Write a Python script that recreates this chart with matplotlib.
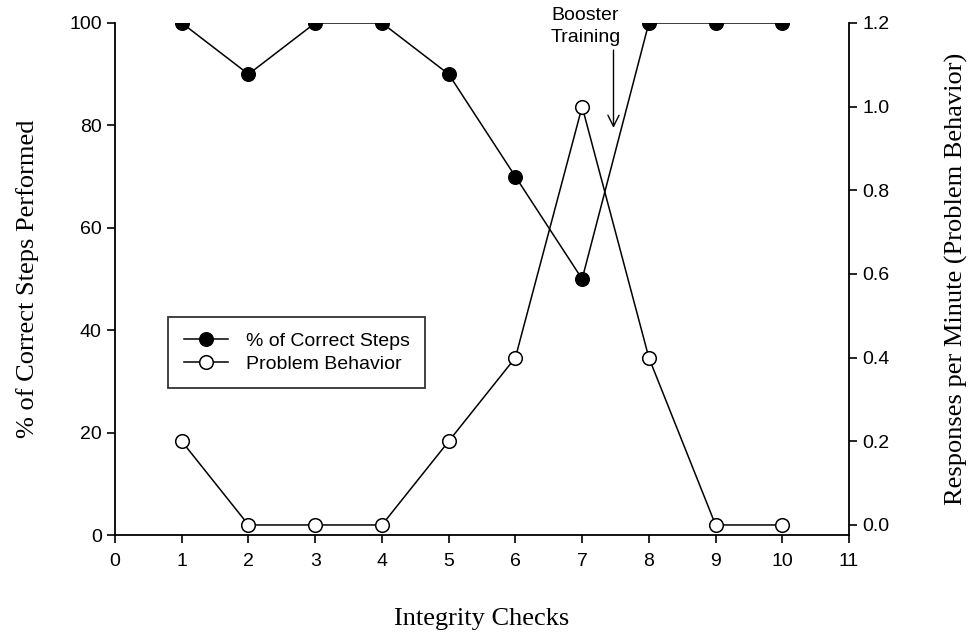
import matplotlib
matplotlib.use("Agg")
import matplotlib.pyplot as plt

checks = [1, 2, 3, 4, 5, 6, 7, 8, 9, 10]
pct_correct = [100, 90, 100, 100, 90, 70, 50, 100, 100, 100]
problem_rate = [0.2, 0.0, 0.0, 0.0, 0.2, 0.4, 1.0, 0.4, 0.0, 0.0]
x_ticks = list(range(0, 12))
left_ticks = [0, 20, 40, 60, 80, 100]
right_ticks = [0.0, 0.2, 0.4, 0.6, 0.8, 1.0, 1.2]

sans = "Liberation Sans"
serif = "Liberation Serif"

fig = plt.figure(figsize=(9.7, 6.33), dpi=100)
ax = fig.add_axes([0.1186, 0.1548, 0.7567, 0.8089])
ax2 = ax.twinx()

l1, = ax.plot(checks, pct_correct, color="black", lw=1.1, marker="o",
              markersize=9.8, markerfacecolor="black", markeredgecolor="black",
              label="% of Correct Steps", zorder=3)
l2, = ax2.plot(checks, problem_rate, color="black", lw=1.1, marker="o",
               markersize=9.8, markerfacecolor="white", markeredgecolor="black",
               markeredgewidth=1.1, label="Problem Behavior", zorder=3)

ax.set_xlim(0, 11)
ax.set_ylim(0, 100)
ax2.set_ylim(-0.024, 1.2)
ax.set_xticks(x_ticks)
ax.set_yticks(left_ticks)
ax2.set_yticks(right_ticks)
ax2.set_yticklabels([f"{v:.1f}" for v in right_ticks])

for a in (ax, ax2):
    a.spines["top"].set_visible(False)
    for s in a.spines.values():
        s.set_linewidth(1.3)
    a.tick_params(direction="out", length=6, width=1.2, labelsize=14)
    for lab in a.get_xticklabels() + a.get_yticklabels():
        lab.set_fontfamily(sans)
ax2.spines["left"].set_visible(False)
ax2.spines["bottom"].set_visible(False)
ax.spines["right"].set_visible(False)
ax.tick_params(axis="x", pad=7)

ax.set_xlabel("Integrity Checks", fontfamily=serif, fontsize=19, labelpad=27)
ax.set_ylabel("% of Correct Steps Performed", fontfamily=serif, fontsize=19, labelpad=22)
ax2.set_ylabel("Responses per Minute (Problem Behavior)", fontfamily=serif,
               fontsize=19, labelpad=40, rotation=90)

ax.text(7.05, 99.3, "Booster\nTraining", ha="center", va="center",
        fontsize=14, fontfamily=sans, linespacing=1.4, clip_on=False)
ax.annotate("", xy=(7.47, 79.5), xytext=(7.47, 94.7),
            arrowprops=dict(arrowstyle="->", color="black", lw=1.0,
                            mutation_scale=20, shrinkA=0, shrinkB=0),
            annotation_clip=False)

leg = fig.legend(handles=[l1, l2], loc="upper left",
                 bbox_to_anchor=(168 / 970, 1 - 317 / 633),
                 prop={"family": sans, "size": 14}, frameon=True,
                 fancybox=False, borderpad=0.8, handlelength=2.3,
                 labelspacing=0.25, borderaxespad=0, handletextpad=0.9)
leg.get_frame().set_edgecolor("black")
leg.get_frame().set_linewidth(1.3)

fig.savefig("out.png", dpi=100)
